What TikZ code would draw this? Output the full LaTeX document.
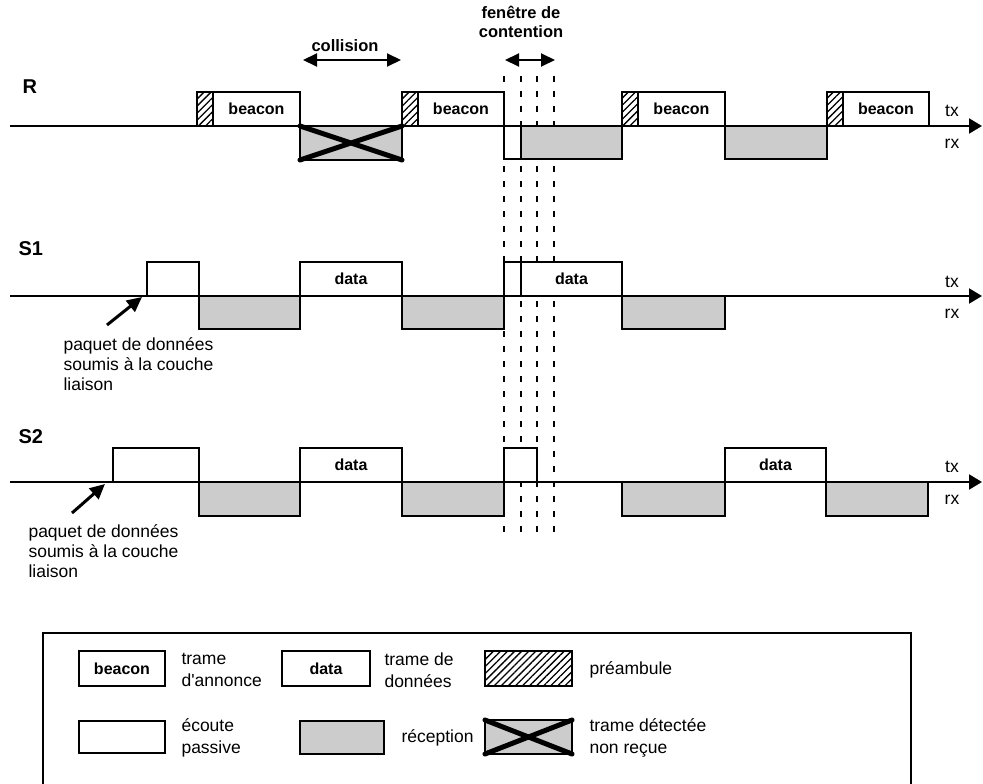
\documentclass[tikz,border=0pt]{standalone}
\usepackage{fontspec}
\setmainfont{Liberation Sans}
\usetikzlibrary{arrows.meta,patterns.meta}

\begin{document}
\begin{tikzpicture}[x=1pt,y=-1pt,
    axis/.style={line width=2pt,arrows={-Triangle[length=13pt,width=15pt]}},
    frame/.style={draw,line width=2.5pt,fill=white},
    rxbox/.style={draw,line width=2.5pt,fill=gray!40},
    pre/.style={draw,line width=2.5pt,pattern={Lines[angle=45,distance=5pt,line width=1.3pt]}},
    cross/.style={line width=5pt,line cap=round},
    slot/.style={line width=1.2pt,dash pattern=on 6pt off 9pt},
    span/.style={line width=2pt,arrows={Triangle[length=14pt,width=13pt]-Triangle[length=14pt,width=13pt]}},
    push/.style={line width=3pt,arrows={-Triangle[length=15pt,width=14pt]}},
    lbl/.style={font=\fontsize{16}{18}\selectfont\bfseries},
    head/.style={font=\fontsize{16.5}{19}\selectfont\bfseries,align=center},
    row/.style={font=\fontsize{20}{22}\selectfont\bfseries,anchor=west},
    txt/.style={font=\fontsize{17.5}{20}\selectfont,align=left},
    key/.style={font=\fontsize{17.5}{22}\selectfont,align=left,anchor=west}]
    \useasboundingbox (0,0) rectangle (983,784);

    % contention window
    \draw[slot] (504,76) -- (504,536);
    \draw[slot] (521,76) -- (521,536);
    \draw[slot] (537,76) -- (537,536);
    \draw[slot] (554,76) -- (554,536);
    \node[head] (win) at (521,22) {fenêtre de\\contention};
    \coordinate (w0) at (505,60);
    \coordinate (w1) at (555,60);
    \draw[span] (w0)--(w1);
    \node[head] (coll) at (345,46) {collision};
    \coordinate (c0) at (303,60);
    \coordinate (c1) at (401,60);
    \draw[span] (c0)--(c1);

    % R
    \node[row] (R) at (19,87) {R};
    \coordinate (r0) at (10,126);
    \coordinate (r1) at (982,126);
    \draw[axis] (r0)--(r1);
    \node[txt] (rtx) at (952,111) {tx};
    \node[txt] (rrx) at (952,144) {rx};
    \draw[pre] (197,92) rectangle (213,126);
    \draw[frame] (213,92) rectangle (300,126);
    \node[lbl] (b1) at (256.5,109) {beacon};
    \draw[rxbox] (300,126) rectangle (402,160);
    \draw[cross] (300,126) -- (402,160) (300,160) -- (402,126);
    \draw[pre] (402,92) rectangle (418,126);
    \draw[frame] (418,92) rectangle (504,126);
    \node[lbl] (b2) at (461,109) {beacon};
    \draw[frame] (504,126) rectangle (521,159);
    \draw[rxbox] (521,126) rectangle (622,159);
    \draw[pre] (622,92) rectangle (638,126);
    \draw[frame] (638,92) rectangle (725,126);
    \node[lbl] (b3) at (681.5,109) {beacon};
    \draw[rxbox] (725,126) rectangle (827,159);
    \draw[pre] (827,92) rectangle (843,126);
    \draw[frame] (843,92) rectangle (929,126);
    \node[lbl] (b4) at (886,109) {beacon};

    % S1
    \node[row] (S1) at (15,249) {S1};
    \coordinate (s10) at (10,296);
    \coordinate (s11) at (982,296);
    \draw[axis] (s10)--(s11);
    \node[txt] (s1tx) at (952,282) {tx};
    \node[txt] (s1rx) at (952,314) {rx};
    \draw[frame] (147,262) rectangle (199,296);
    \draw[rxbox] (199,296) rectangle (300,329);
    \draw[frame] (300,262) rectangle (402,296);
    \node[lbl] (d1) at (351,279) {data};
    \draw[rxbox] (402,296) rectangle (504,329);
    \draw[frame] (504,262) rectangle (521,296);
    \draw[frame] (521,262) rectangle (622,296);
    \node[lbl] (d2) at (571.5,279) {data};
    \draw[rxbox] (622,296) rectangle (725,329);
    \node[txt,anchor=north west] (pk1) at (60,334) {paquet de données\\soumis à la couche\\liaison};
    \coordinate (pk1a) at (107,325);
    \coordinate (pk1b) at (142,297);
    \draw[push] (pk1a)--(pk1b);

    % S2
    \node[row] (S2) at (15,437) {S2};
    \coordinate (s20) at (10,482);
    \coordinate (s21) at (982,482);
    \draw[axis] (s20)--(s21);
    \node[txt] (s2tx) at (952,467) {tx};
    \node[txt] (s2rx) at (952,500) {rx};
    \draw[frame] (113,448) rectangle (199,482);
    \draw[rxbox] (199,482) rectangle (300,516);
    \draw[frame] (300,448) rectangle (402,482);
    \node[lbl] (d3) at (351,465) {data};
    \draw[rxbox] (402,482) rectangle (504,516);
    \draw[frame] (504,448) rectangle (537,482);
    \draw[rxbox] (622,482) rectangle (725,516);
    \draw[frame] (725,448) rectangle (826,482);
    \node[lbl] (d4) at (775.5,465) {data};
    \draw[rxbox] (826,482) rectangle (928,516);
    \node[txt,anchor=north west] (pk2) at (25,521) {paquet de données\\soumis à la couche\\liaison};
    \coordinate (pk2a) at (72,513);
    \coordinate (pk2b) at (105,484);
    \draw[push] (pk2a)--(pk2b);

    % legend
    \draw[line width=2.5pt] (43,633) rectangle (911,800);
    \draw[frame] (79,651) rectangle (165,686);
    \node[lbl] (kb) at (122,668.5) {beacon};
    \node[key] (kbt) at (178,670) {trame\\d\textquotesingle annonce};
    \draw[frame] (282,651) rectangle (370,686);
    \node[lbl] (kd) at (326,668.5) {data};
    \node[key] (kdt) at (381,670) {trame de\\données};
    \draw[pre] (485,651) rectangle (572,686);
    \node[key] (kpt) at (586,670) {préambule};
    \draw[frame] (79,721) rectangle (165,753);
    \node[key] (kl) at (178,738) {écoute\\passive};
    \draw[rxbox] (300,721) rectangle (384,754);
    \node[key] (kr) at (398,738) {réception};
    \draw[rxbox] (485,720) rectangle (572,754);
    \draw[cross] (485,720) -- (572,754) (485,754) -- (572,720);
    \node[key] (kc) at (586,738) {trame détectée\\non reçue};
\end{tikzpicture}
\end{document}
